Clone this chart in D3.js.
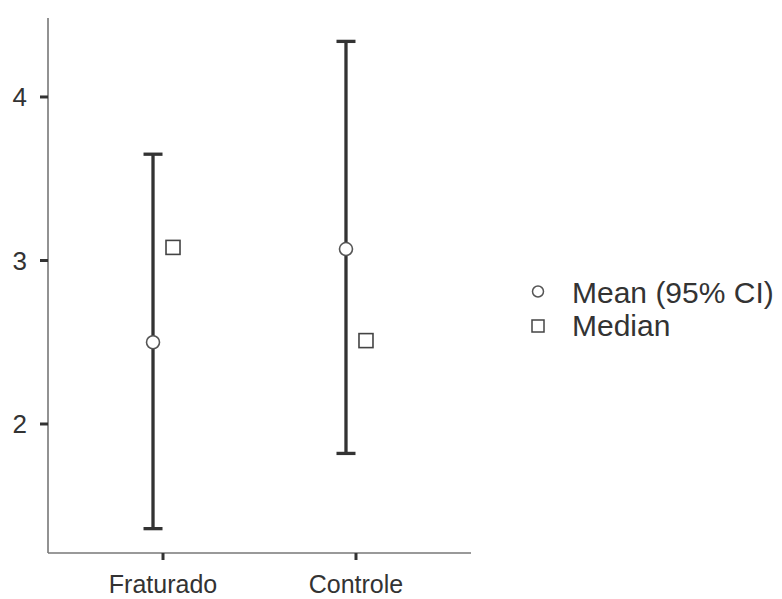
<!DOCTYPE html>
<html>
<head>
<meta charset="utf-8">
<script src="https://cdn.jsdelivr.net/npm/d3@7"></script>
<style>
  html, body { margin: 0; padding: 0; background: #fff; }
  svg { display: block; }
  text { font-family: "Liberation Sans", Arial, sans-serif; fill: #333; }
</style>
</head>
<body>
<svg id="chart" width="782" height="599"></svg>
<script>
// Group summaries: mean with 95% CI, and median
const groups = ["Fraturado", "Controle"];
const means = [2.50, 3.07];
const ciLower = [1.36, 1.82];
const ciUpper = [3.65, 4.34];
const medians = [3.08, 2.51];
const yTicks = [2, 3, 4];
const legendLabels = ["Mean (95% CI)", "Median"];

const svg = d3.select("#chart");

const plot = { left: 48, right: 471, top: 18, bottom: 553 };

const x = d3.scalePoint()
  .domain(groups)
  .range([plot.left, plot.right])
  .padding(0.596);

const y = d3.scaleLinear()
  .domain([1.211, 4.483])
  .range([plot.bottom, plot.top]);

const dodge = 10;
const data = groups.map((g, i) => ({
  group: g, mean: means[i], lo: ciLower[i], hi: ciUpper[i], median: medians[i]
}));

// Axis lines
svg.append("line")
  .attr("x1", plot.left).attr("x2", plot.left)
  .attr("y1", plot.top).attr("y2", plot.bottom)
  .attr("stroke", "#777").attr("stroke-width", 1.6);
svg.append("line")
  .attr("x1", plot.left).attr("x2", plot.right)
  .attr("y1", plot.bottom).attr("y2", plot.bottom)
  .attr("stroke", "#777").attr("stroke-width", 1.6);

// Y axis ticks and labels
const yAxis = svg.append("g");
yAxis.selectAll("line").data(yTicks).join("line")
  .attr("x1", plot.left - 8).attr("x2", plot.left)
  .attr("y1", d => y(d)).attr("y2", d => y(d))
  .attr("stroke", "#333").attr("stroke-width", 3);
yAxis.selectAll("text").data(yTicks).join("text")
  .attr("x", plot.left - 21)
  .attr("y", d => y(d))
  .attr("dy", "0.36em")
  .attr("text-anchor", "end")
  .style("font-size", "26px")
  .text(d => d);

// X axis ticks and labels
const xAxis = svg.append("g");
xAxis.selectAll("line").data(groups).join("line")
  .attr("x1", d => x(d)).attr("x2", d => x(d))
  .attr("y1", plot.bottom).attr("y2", plot.bottom + 7)
  .attr("stroke", "#333").attr("stroke-width", 3);
xAxis.selectAll("text").data(groups).join("text")
  .attr("x", d => x(d))
  .attr("y", 593)
  .attr("text-anchor", "middle")
  .style("font-size", "25px")
  .text(d => d);

// Error bars (95% CI)
const bars = svg.append("g").attr("stroke", "#333").attr("stroke-width", 3.3);
bars.selectAll("line.v").data(data).join("line").attr("class", "v")
  .attr("x1", d => x(d.group) - dodge).attr("x2", d => x(d.group) - dodge)
  .attr("y1", d => y(d.lo)).attr("y2", d => y(d.hi));
bars.selectAll("line.cap-hi").data(data).join("line").attr("class", "cap-hi")
  .attr("x1", d => x(d.group) - dodge - 9.5).attr("x2", d => x(d.group) - dodge + 9.5)
  .attr("y1", d => y(d.hi)).attr("y2", d => y(d.hi));
bars.selectAll("line.cap-lo").data(data).join("line").attr("class", "cap-lo")
  .attr("x1", d => x(d.group) - dodge - 9.5).attr("x2", d => x(d.group) - dodge + 9.5)
  .attr("y1", d => y(d.lo)).attr("y2", d => y(d.lo));

// Mean points
svg.append("g").selectAll("circle").data(data).join("circle")
  .attr("cx", d => x(d.group) - dodge)
  .attr("cy", d => y(d.mean))
  .attr("r", 6.5)
  .attr("fill", "#fff")
  .attr("stroke", "#555")
  .attr("stroke-width", 1.6);

// Median points
const sq = 14;
svg.append("g").selectAll("rect").data(data).join("rect")
  .attr("x", d => x(d.group) + dodge - sq / 2)
  .attr("y", d => y(d.median) - sq / 2)
  .attr("width", sq).attr("height", sq)
  .attr("fill", "#fff")
  .attr("stroke", "#444")
  .attr("stroke-width", 1.6);

// Legend
const legend = svg.append("g");
legend.append("circle")
  .attr("cx", 538).attr("cy", 291.5).attr("r", 5.5)
  .attr("fill", "#fff").attr("stroke", "#555").attr("stroke-width", 1.5);
legend.append("rect")
  .attr("x", 532).attr("y", 320).attr("width", 12).attr("height", 12)
  .attr("fill", "#fff").attr("stroke", "#444").attr("stroke-width", 1.5);
legend.selectAll("text").data(legendLabels).join("text")
  .attr("x", 572)
  .attr("y", (d, i) => 303 + i * 33)
  .style("font-size", "30px")
  .text(d => d);
</script>
</body>
</html>
